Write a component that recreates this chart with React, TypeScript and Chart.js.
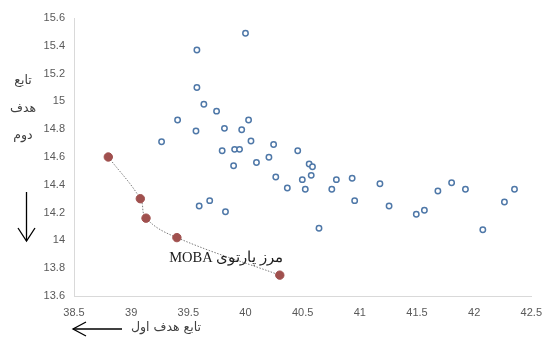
import React, { useEffect, useRef } from "react";
import { Chart, registerables } from "chart.js";

Chart.register(...registerables);

// Pareto front (MOBA) points
const paretoX = [38.8, 39.08, 39.13, 39.4, 40.3];
const paretoY = [14.6, 14.3, 14.16, 14.02, 13.75];

// Other (dominated) solutions
const otherX = [
  40.0, 39.575, 39.575, 39.636, 39.747, 39.406, 40.027, 39.567, 39.816, 39.967,
  40.048, 40.246, 40.457, 39.266, 39.796, 39.905, 39.948, 40.205, 39.896, 40.096,
  40.265, 40.366, 40.497, 40.523, 40.557, 40.586, 40.575, 39.595, 39.687, 39.825,
  40.643, 40.755, 40.795, 40.933, 40.955, 41.176, 41.256, 41.494, 41.565, 41.683,
  41.803, 41.924, 42.076, 42.265, 42.353,
];
const otherY = [
  15.49, 15.37, 15.1, 14.98, 14.93, 14.866, 14.866, 14.787, 14.806, 14.796,
  14.715, 14.69, 14.645, 14.71, 14.645, 14.655, 14.655, 14.598, 14.537, 14.56,
  14.456, 14.377, 14.437, 14.368, 14.55, 14.53, 14.468, 14.247, 14.286, 14.206,
  14.087, 14.368, 14.437, 14.447, 14.286, 14.408, 14.247, 14.188, 14.217, 14.355,
  14.415, 14.368, 14.077, 14.276, 14.368,
];

// Axis ranges / ticks
const xMin = 38.5;
const xMax = 42.5;
const xStep = 0.5;
const yMin = 13.6;
const yMax = 15.6;
const yStep = 0.2;

// Texts
const yTitleLines = ["تابع", "هدف", "دوم"];
const xTitle = "تابع هدف اول";
const frontLabel = "مرز پارتوی MOBA";

const fmt = (v: any) => String(Number(Number(v).toFixed(2)));

const annotations = {
  id: "annotations",
  afterDraw(chart: any) {
    const ctx = chart.ctx as CanvasRenderingContext2D;
    const xs = chart.scales.x;
    const ys = chart.scales.y;
    ctx.save();
    // Y title
    ctx.fillStyle = "#404040";
    ctx.font = "12.5px 'DejaVu Sans'";
    ctx.textAlign = "center";
    ctx.textBaseline = "middle";
    (ctx as any).direction = "rtl";
    yTitleLines.forEach((t, i) => ctx.fillText(t, 23, 81 + i * 27.5));
    // X title
    ctx.fillText(xTitle, 166, 328);
    // Front label
    ctx.fillStyle = "#202020";
    ctx.font = "14.5px 'Liberation Serif'";
    ctx.fillText(frontLabel, xs.getPixelForValue(39.83), ys.getPixelForValue(13.87));
    (ctx as any).direction = "ltr";

    // Down arrow
    ctx.strokeStyle = "#000";
    ctx.lineWidth = 1.3;
    ctx.beginPath();
    ctx.moveTo(26.5, 192);
    ctx.lineTo(26.5, 241);
    ctx.stroke();
    ctx.beginPath();
    ctx.moveTo(18, 228);
    ctx.lineTo(26.5, 241);
    ctx.lineTo(35, 228);
    ctx.stroke();

    // Left arrow
    ctx.beginPath();
    ctx.moveTo(73, 329);
    ctx.lineTo(122, 329);
    ctx.stroke();
    ctx.beginPath();
    ctx.moveTo(86, 322);
    ctx.lineTo(73, 329);
    ctx.lineTo(86, 336);
    ctx.stroke();
    ctx.restore();
  },
};

export default function App() {
  const ref = useRef<HTMLCanvasElement>(null);
  useEffect(() => {
    if (!ref.current) return;
    const tickFont = { family: "'Liberation Sans'", size: 11 };
    const chart = new Chart(ref.current, {
      type: "scatter",
      data: {
        datasets: [
          {
            label: "front",
            data: paretoX.map((x, i) => ({ x, y: paretoY[i] })),
            showLine: true,
            tension: 0.4,
            borderColor: "#7a7a7a",
            borderWidth: 1,
            borderDash: [1.5, 1.5],
            pointRadius: 4.2,
            pointBackgroundColor: "#a0504e",
            pointBorderColor: "#a0504e",
            pointBorderWidth: 1,
            order: 1,
          },
          {
            label: "others",
            data: otherX.map((x, i) => ({ x, y: otherY[i] })),
            showLine: false,
            pointRadius: 2.7,
            pointBackgroundColor: "#ffffff",
            pointBorderColor: "#4f78a8",
            pointBorderWidth: 1.5,
            order: 2,
          },
        ],
      },
      options: {
        responsive: false,
        animation: false,
        layout: { padding: { top: 18, right: 12, left: 0, bottom: 0 } },
        plugins: {
          legend: { display: false },
          tooltip: { enabled: false },
        },
        scales: {
          x: {
            type: "linear",
            min: xMin,
            max: xMax,
            grid: { display: false, drawTicks: false },
            border: { display: true, color: "#d9d9d9", width: 1 },
            ticks: {
              stepSize: xStep,
              padding: 10,
              color: "#595959",
              font: tickFont,
              maxRotation: 0,
              callback: fmt,
            },
            afterFit: (s: any) => {
              s.height = 41;
            },
          },
          y: {
            type: "linear",
            min: yMin,
            max: yMax,
            grid: { display: false, drawTicks: false },
            border: { display: true, color: "#d9d9d9", width: 1 },
            ticks: {
              stepSize: yStep,
              padding: 9,
              color: "#595959",
              font: tickFont,
              callback: fmt,
            },
            afterFit: (s: any) => {
              s.width = 74;
            },
          },
        },
      },
      plugins: [annotations],
    });
    return () => chart.destroy();
  }, []);
  return (
    <div style={{ position: "absolute", left: 0, top: 0, width: 552, height: 337, background: "#fff" }}>
      <canvas ref={ref} width={552} height={337} />
    </div>
  );
}
